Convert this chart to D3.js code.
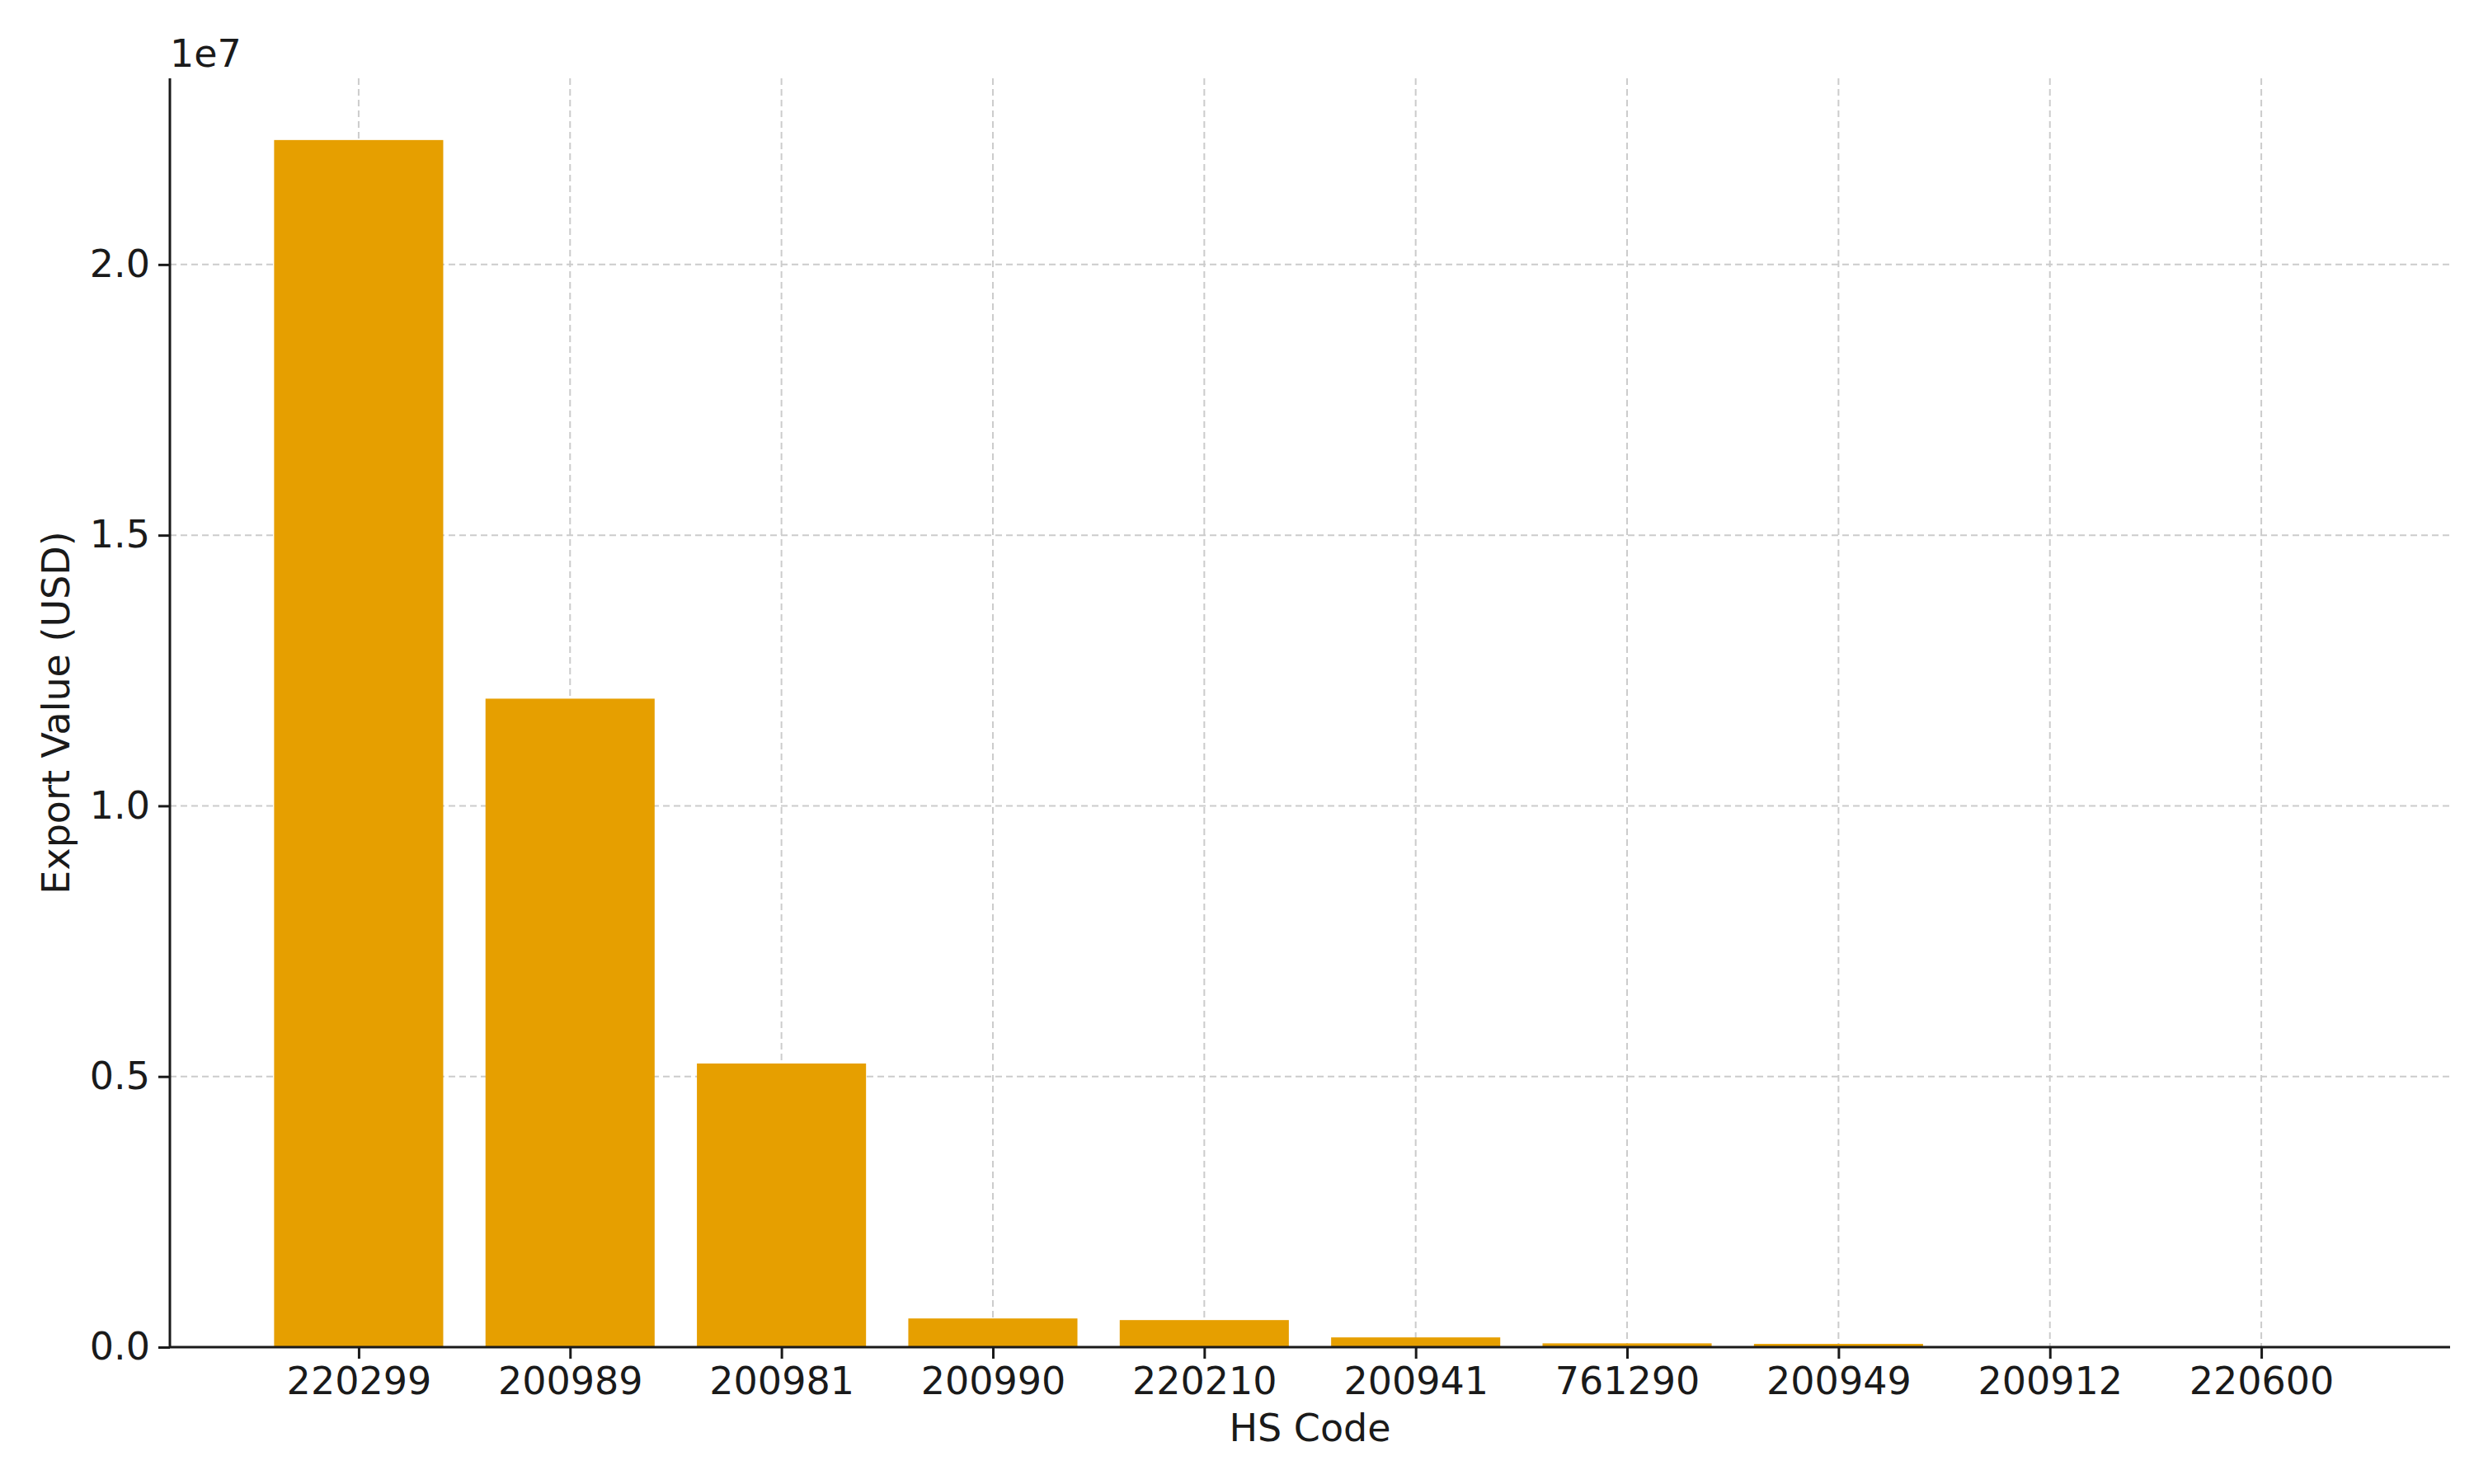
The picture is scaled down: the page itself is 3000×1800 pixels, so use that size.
<!DOCTYPE html>
<html>
<head>
<meta charset="utf-8">
<script src="https://cdn.jsdelivr.net/npm/d3@7"></script>
<style>
  body { margin: 0; background: #fff; }
  text { font-family: "DejaVu Sans", sans-serif; fill: #1a1a1a; }
</style>
</head>
<body>
<svg id="chart" width="3000" height="1800"></svg>
<script>
var codes = ['220299', '200989', '200981', '200990', '220210', '200941', '761290', '200949', '200912', '220600']
var values = [22300000, 11980000, 5240000, 530000, 500000, 180000, 70000, 60000, 6000, 2000]
var yTicks = [0, 0.5e7, 1.0e7, 1.5e7, 2.0e7]

var svg = d3.select('#chart')
var plotLeft = 206, plotRight = 2971, plotTop = 95, plotBottom = 1634

var x = d3.scaleLinear().domain([-0.893, 9.893]).range([plotLeft, plotRight])
var y = d3.scaleLinear().domain([0, 2.344e7]).range([plotBottom, plotTop])
var bw = x(0.4) - x(-0.4)

// grid
svg.append('g').selectAll('line').data(yTicks).join('line')
  .attr('x1', plotLeft).attr('x2', plotRight)
  .attr('y1', d => y(d)).attr('y2', d => y(d))
  .attr('stroke', '#cccccc').attr('stroke-width', 2).attr('stroke-dasharray', '8,5')
svg.append('g').selectAll('line').data(codes).join('line')
  .attr('x1', (d, i) => x(i)).attr('x2', (d, i) => x(i))
  .attr('y1', plotTop).attr('y2', plotBottom)
  .attr('stroke', '#cccccc').attr('stroke-width', 2).attr('stroke-dasharray', '8,5')

// bars
svg.append('g').selectAll('rect').data(values).join('rect')
  .attr('x', (d, i) => x(i) - bw / 2)
  .attr('width', bw)
  .attr('y', d => y(d))
  .attr('height', d => plotBottom - y(d))
  .attr('fill', '#E69F00')

// axes
var xAxis = svg.append('g').attr('transform', 'translate(0,' + plotBottom + ')')
  .call(d3.axisBottom(x).tickValues(d3.range(codes.length)).tickFormat(i => codes[i]).tickSize(14).tickPadding(10))
var yAxis = svg.append('g').attr('transform', 'translate(' + plotLeft + ',0)')
  .call(d3.axisLeft(y).tickValues(yTicks).tickFormat(d => (d / 1e7).toFixed(1)).tickSize(14).tickPadding(10))
;[xAxis, yAxis].forEach(function(a) {
  a.select('.domain').remove()
  a.selectAll('line').attr('stroke', '#1a1a1a').attr('stroke-width', 3)
  a.selectAll('text').style('font-size', '46px').style('font-family', '"DejaVu Sans", sans-serif').attr('fill', '#1a1a1a')
})
svg.append('line').attr('x1', plotLeft).attr('x2', plotLeft).attr('y1', plotTop).attr('y2', plotBottom)
  .attr('stroke', '#1a1a1a').attr('stroke-width', 3)
svg.append('line').attr('x1', plotLeft).attr('x2', plotRight).attr('y1', plotBottom).attr('y2', plotBottom)
  .attr('stroke', '#1a1a1a').attr('stroke-width', 3)

svg.append('text').attr('x', plotLeft).attr('y', plotTop - 14).text('1e7').style('font-size', '46px')
svg.append('text').attr('x', (plotLeft + plotRight) / 2).attr('y', 1748).attr('text-anchor', 'middle')
  .text('HS Code').style('font-size', '46px')
svg.append('text').attr('transform', 'translate(84,' + (plotTop + plotBottom) / 2 + ') rotate(-90)')
  .attr('text-anchor', 'middle').text('Export Value (USD)').style('font-size', '46px')
</script>
</body>
</html>
